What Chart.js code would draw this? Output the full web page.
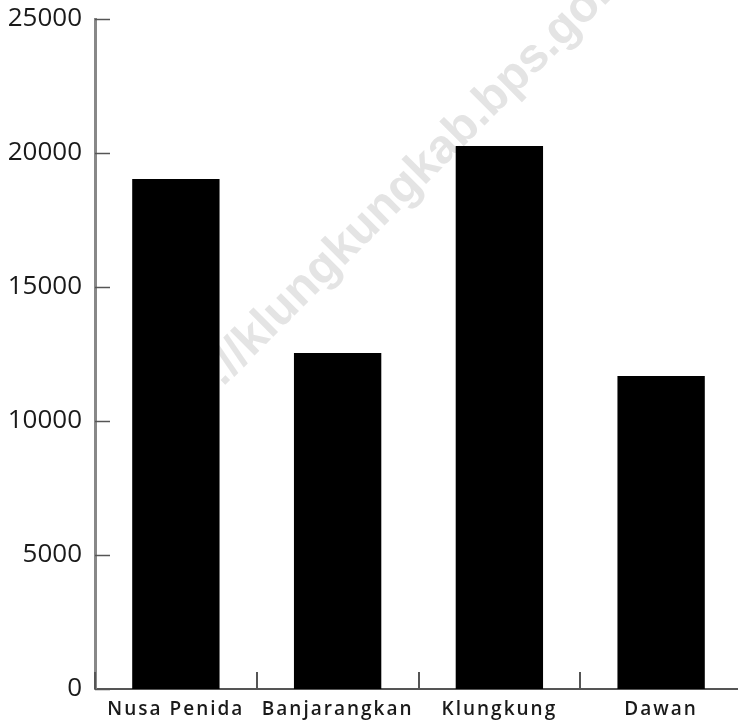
<!DOCTYPE html>
<html>
<head>
<meta charset="utf-8">
<script src="https://cdn.jsdelivr.net/npm/chart.js@4.4.0/dist/chart.umd.min.js"></script>
<style>
  body { margin: 0; background: #fff; }
  #wrap { width: 738px; height: 722px; overflow: hidden; }
</style>
</head>
<body>
<div id="wrap"><canvas id="myChart" width="746" height="722"></canvas></div>
<script>
var kecamatan = ["Nusa Penida", "Banjarangkan", "Klungkung", "Dawan"];
var jumlah = [19030, 12540, 20260, 11680];
var yMin = 0, yMax = 25000, yStep = 5000;
var watermark = "http://klungkungkab.bps.go.id";

// short tick marks drawn inside the plot, plus the faint diagonal watermark
var axisMarks = {
	id: 'axisMarks',
	afterLayout: function (chart) {
		// the category labels are letter-spaced in the original
		var s = chart.scales.x;
		if (s._spaced) return;
		var orig = s.drawLabels;
		s.drawLabels = function (area) {
			this.ctx.save();
			this.ctx.letterSpacing = '2px';
			orig.call(this, area);
			this.ctx.restore();
		};
		s._spaced = true;
	},
	beforeDatasetsDraw: function (chart) {
		var ctx = chart.ctx;
		ctx.save();
		ctx.translate(158, 452);
		ctx.rotate(-Math.PI / 4);
		ctx.font = 'bold 48px "Liberation Sans", Arial, sans-serif';
		ctx.fillStyle = '#e4e4e4';
		ctx.fillText(watermark, 0, 0);
		ctx.restore();
	},
	afterDraw: function (chart) {
		var ctx = chart.ctx;
		var x = chart.scales.x, y = chart.scales.y, area = chart.chartArea;
		ctx.save();
		ctx.strokeStyle = '#555';
		ctx.lineWidth = 1.5;
		y.ticks.forEach(function (t) {
			var py = Math.round(y.getPixelForValue(t.value)) + 0.5;
			ctx.beginPath();
			ctx.moveTo(area.left, py);
			ctx.lineTo(area.left + 15, py);
			ctx.stroke();
		});
		var half = (x.getPixelForValue(1) - x.getPixelForValue(0)) / 2;
		ctx.lineWidth = 2;
		for (var i = 0; i < kecamatan.length; i++) {
			var px = Math.round(x.getPixelForValue(i) - half);
			ctx.beginPath();
			ctx.moveTo(px, area.bottom - 17);
			ctx.lineTo(px, area.bottom);
			ctx.stroke();
		}
		ctx.restore();
	}
};

var ctx = document.getElementById("myChart").getContext("2d");

var myBarChart = new Chart(ctx, {
	type: 'bar',
	data: {
		labels: kecamatan,
		datasets: [{
			data: jumlah,
			backgroundColor: '#000',
			borderWidth: 0,
			barPercentage: 0.54,
			categoryPercentage: 1
		}]
	},
	options: {
		responsive: false,
		animation: false,
		layout: { padding: { top: 19, right: 4, left: 0, bottom: 0 } },
		plugins: { legend: { display: false }, tooltip: { enabled: false } },
		scales: {
			x: {
				grid: { display: false },
				border: { color: '#555', width: 2 },
				ticks: {
					color: '#1a1a1a',
					padding: 1,
					maxRotation: 0,
					autoSkip: false,
					font: { family: '"Open Sans"', size: 19, weight: '600' }
				},
				afterFit: function (scale) { scale.height = 33; }
			},
			y: {
				min: yMin,
				max: yMax,
				grid: { display: false },
				border: { color: '#888', width: 3 },
				ticks: {
					stepSize: yStep,
					color: '#1a1a1a',
					padding: 5,
					font: { family: '"Open Sans"', size: 26 },
					callback: function (v) { return String(v); }
				},
				afterFit: function (scale) {
					scale.width = 95;
					scale.paddingTop = 0;
					scale.paddingBottom = 0;
				}
			}
		}
	},
	plugins: [axisMarks]
});
</script>
</body>
</html>
